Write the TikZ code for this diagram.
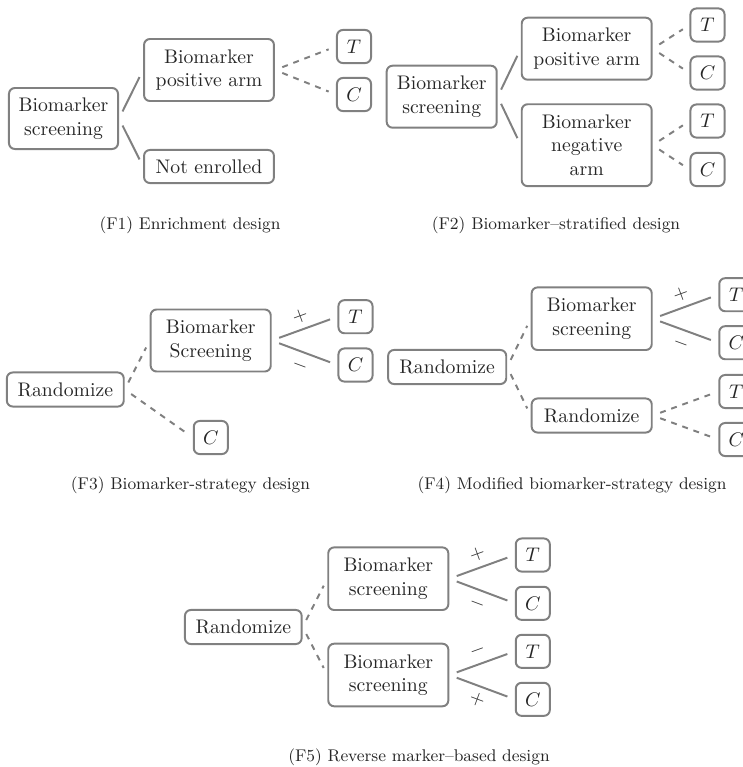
\documentclass[tikz,border=0pt]{standalone}
\usepackage{tikz}
\begin{document}
\begin{tikzpicture}[x=0.508pt,y=-0.508pt,
  every node/.style={text=black!85, font=\fontsize{10}{12}\selectfont},
  box/.style={draw=black!50, line width=1pt, rounded corners=3pt, align=center, inner sep=0pt},
  wbox/.style={box, minimum width=66pt},
  tc/.style={box, minimum width=17.3pt, minimum height=16.8pt},
  solidedge/.style={draw=black!50, line width=1pt, shorten >=4pt, shorten <=4pt},
  dashedge/.style={solidedge, dashed},
  lab/.style={midway, sloped, inner sep=3pt, text=black!80},
  capt/.style={font=\fontsize{8.6}{10}\selectfont, text=black!85}
]
\useasboundingbox (0,0) rectangle (743,767);
\clip (0,0) rectangle (743,767);

% ---------- F1 ----------
\node[box, minimum width=55.4pt, minimum height=31pt] (a1) at (63.5,118.5) {Biomarker\\screening};
\node[wbox, minimum height=31.5pt] (a2) at (209,70) {Biomarker\\positive arm};
\node[wbox, minimum height=16.8pt] (a3) at (209,166.5) {Not enrolled};
\node[tc] (a4) at (354,46.5) {$T$};
\node[tc] (a5) at (354,94.5) {$C$};
\draw[solidedge] (a1.east) -- (a2.west);
\draw[solidedge] (a1.east) -- (a3.west);
\draw[dashedge] (a2.east) -- (a4.west);
\draw[dashedge] (a2.east) -- (a5.west);
\node[capt] (cap1) at (190,225) {(F1) Enrichment design};

% ---------- F2 ----------
\node[box, minimum width=55.9pt, minimum height=31.5pt] (b1) at (441.7,96.7) {Biomarker\\screening};
\node[wbox, minimum height=31.5pt] (b2) at (586.7,48.7) {Biomarker\\positive arm};
\node[wbox, minimum height=41.6pt] (b3) at (586.7,145.2) {Biomarker\\negative\\arm};
\node[tc] (b4) at (707.5,25) {$T$};
\node[tc] (b5) at (707.5,73) {$C$};
\node[tc] (b6) at (707.5,121) {$T$};
\node[tc] (b7) at (707.5,169.5) {$C$};
\draw[solidedge] (b1.east) -- (b2.west);
\draw[solidedge] (b1.east) -- (b3.west);
\draw[dashedge] (b2.east) -- (b4.west);
\draw[dashedge] (b2.east) -- (b5.west);
\draw[dashedge] (b3.east) -- (b6.west);
\draw[dashedge] (b3.east) -- (b7.west);
\node[capt] (cap2) at (556,225) {(F2) Biomarker--stratified design};

% ---------- F3 ----------
\node[box, minimum width=59.4pt, minimum height=17.3pt] (c1) at (65.3,389.5) {Randomize};
\node[box, minimum width=61pt, minimum height=31.5pt] (c2) at (210.7,340.5) {Biomarker\\Screening};
\node[tc] (c3) at (355.5,316.7) {$T$};
\node[tc] (c4) at (355.5,365) {$C$};
\node[tc] (c5) at (210.8,437.5) {$C$};
\draw[dashedge] (c1.east) -- (c2.west);
\draw[dashedge] (c1.east) -- (c5.west);
\draw[solidedge] (c2.east) -- node[lab, above] {$+$} (c3.west);
\draw[solidedge] (c2.east) -- node[lab, below] {$-$} (c4.west);
\node[capt] (cap3) at (190.5,485) {(F3) Biomarker-strategy design};

% ---------- F4 ----------
\node[box, minimum width=60pt, minimum height=17.3pt] (d1) at (447.2,367) {Randomize};
\node[box, minimum width=61pt, minimum height=31.8pt] (d2) at (591.7,318.7) {Biomarker\\screening};
\node[box, minimum width=61pt, minimum height=17.3pt] (d3) at (591.7,415.5) {Randomize};
\node[tc] (d4) at (736.3,294.7) {$T$};
\node[tc] (d5) at (736.3,342.7) {$C$};
\node[tc] (d6) at (736.3,391.5) {$T$};
\node[tc] (d7) at (736.3,439.5) {$C$};
\draw[dashedge] (d1.east) -- (d2.west);
\draw[dashedge] (d1.east) -- (d3.west);
\draw[solidedge] (d2.east) -- node[lab, above] {$+$} (d4.west);
\draw[solidedge] (d2.east) -- node[lab, below] {$-$} (d5.west);
\draw[dashedge] (d3.east) -- (d6.west);
\draw[dashedge] (d3.east) -- (d7.west);
\node[capt] (cap4) at (572,485) {(F4) Modified biomarker-strategy design};

% ---------- F5 ----------
\node[box, minimum width=59.3pt, minimum height=17.3pt] (e1) at (243.3,627) {Randomize};
\node[box, minimum width=61pt, minimum height=31.8pt] (e2) at (388.3,578.7) {Biomarker\\screening};
\node[box, minimum width=61pt, minimum height=31.8pt] (e3) at (388.3,675) {Biomarker\\screening};
\node[tc] (e4) at (532.8,555) {$T$};
\node[tc] (e5) at (532.8,603.3) {$C$};
\node[tc] (e6) at (532.8,651.3) {$T$};
\node[tc] (e7) at (532.8,699.3) {$C$};
\draw[dashedge] (e1.east) -- (e2.west);
\draw[dashedge] (e1.east) -- (e3.west);
\draw[solidedge] (e2.east) -- node[lab, above] {$+$} (e4.west);
\draw[solidedge] (e2.east) -- node[lab, below] {$-$} (e5.west);
\draw[solidedge] (e3.east) -- node[lab, above] {$-$} (e6.west);
\draw[solidedge] (e3.east) -- node[lab, below] {$+$} (e7.west);
\node[capt] (cap5) at (419,757) {(F5) Reverse marker--based design};
\end{tikzpicture}
\end{document}
